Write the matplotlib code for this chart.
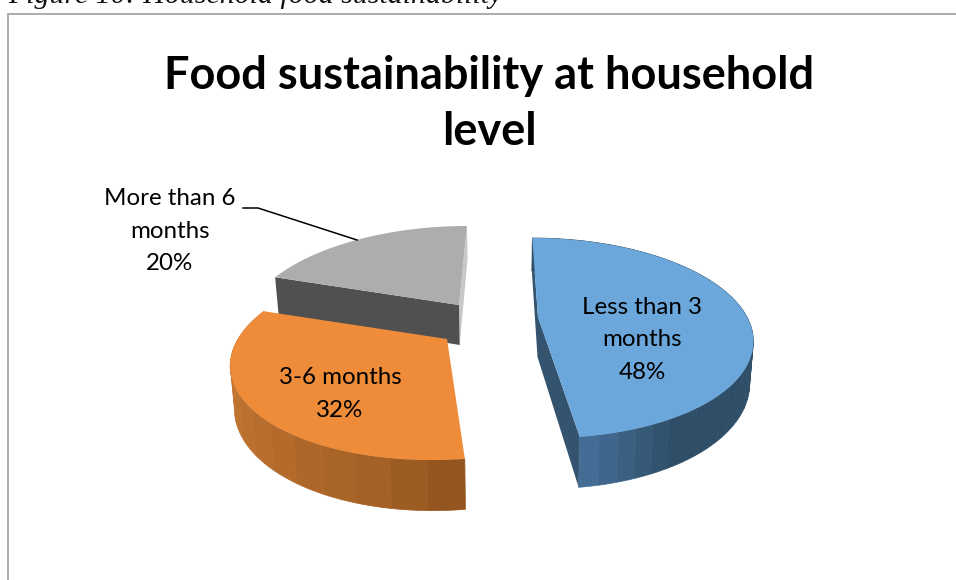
"""Household food sustainability: exploded 3-D pie, drawn on a pixel-sized axes."""
import numpy as np
import matplotlib; matplotlib.use('Agg')
import matplotlib.pyplot as plt
from matplotlib.colors import to_rgb

categories = ['Less than 3\nmonths', '3-6 months', 'More than 6\nmonths']
shares = [48, 32, 20]
title = 'Food sustainability at household\nlevel'
caption = 'Figure 10: Household food sustainability'

# look of each slice, same order as categories
TOP = ['#6CA7DC', '#EE8C3A', '#ADADAD']
SIDE_A = ['#2F4E68', '#8A4F1A', '#505050']     # side colour at the first arc end
SIDE_B = ['#45709A', '#D27F38', '#505050']     # side colour at the other arc end
DX = [33, -58, -46]                            # explosion sideways, px
APEX_Y = [317, 339, 305]                       # slice point on screen, px
LABEL_XY = [(642, 340), (340, 394), (170, 231)]

# fake perspective of the pie plane
CX, A, B, P, DEPTH, SQUEEZE = 505, 209, 95.6, 0.21, 40, 0.985

def project(i, ang, r=1.0, down=False):
    X, Y = r*np.sin(ang), r*np.cos(ang)
    w = 1 + P*Y
    sx = CX + (A*X + DX[i])/w
    sy = APEX_Y[i] - B*Y/w
    if down:
        sx = CX + (sx - CX)*SQUEEZE
        sy = sy + DEPTH/w
    return sx, sy

fig = plt.figure(figsize=(9.56, 5.8), dpi=100)
ax = fig.add_axes([0, 0, 1, 1])
ax.set_xlim(0, 956); ax.set_ylim(580, 0); ax.axis('off')

# chart frame, runs off the page on the right and bottom
ax.plot([8.5, 8.5, 960], [585, 13.5, 13.5], color='#A6A6A6', lw=1.3, solid_joinstyle='miter')
ax.text(8, 3, caption, family='Liberation Serif', style='italic', fontsize=21.5, va='baseline', ha='left', color='#111111')

fracs = np.array(shares)/sum(shares)
edges = np.concatenate([[0], np.cumsum(fracs)])*2*np.pi
for i in [2, 1, 0]:   # back slice first
    a0, a1 = edges[i], edges[i+1]
    base = 3 + (2-i)*3
    # radial faces: index 0 end of arc, 1 point, 2 start of arc
    xs_t, ys_t = project(i, np.array([a1, a1, a0]), np.array([1, 0, 1]))
    xs_b, ys_b = project(i, np.array([a1, a1, a0]), np.array([1, 0, 1]), down=True)
    if i == 2:
        ax.fill([xs_t[0], xs_t[1], xs_b[1], xs_b[0]], [ys_t[0], ys_t[1], ys_b[1], ys_b[0]], color='#C8C8C8', lw=0, zorder=base)
        ax.fill([xs_t[2], xs_t[1], xs_b[1], xs_b[2]], [ys_t[2], ys_t[1], ys_b[1], ys_b[2]], color=SIDE_A[2], lw=0, zorder=base+1)
    elif i == 0:
        ax.fill(list(xs_t)+list(xs_b[::-1]), list(ys_t)+list(ys_b[::-1]), color='#34536E', lw=0, zorder=base)
    # curved side, in bands (the gray one faces away)
    n = 14 if i == 1 else 40
    bands = np.linspace(a0, a1, n+1)
    for j in range(n if i != 2 else 0):
        u = np.linspace(bands[j], bands[j+1], 6)
        xa, ya = project(i, u)
        xb, yb = project(i, u, down=True)
        t = (j + .5)/n
        if i == 0:
            t = max(0, (t - .87)/.13)      # blue only lightens near the front corner
        else:
            t = t**0.6
        c = np.array(to_rgb(SIDE_A[i]))*(1-t) + np.array(to_rgb(SIDE_B[i]))*t
        ax.fill(np.r_[xa, xb[::-1]], np.r_[ya, yb[::-1]], facecolor=c, edgecolor=c, lw=0.5, zorder=base)
    # top face
    u = np.linspace(a0, a1, 120)
    xa, ya = project(i, u)
    xc, yc = project(i, 0.0, 0.0)
    ax.fill(np.r_[xc, xa], np.r_[yc, ya], color=TOP[i], lw=0, zorder=base+2)

for lab, v, (lx, ly) in zip(categories, shares, LABEL_XY):
    ax.text(lx, ly, f'{lab}\n{v}%', family='Lato', fontsize=17.4, ha='center', va='center', color='black', linespacing=1.68, zorder=20)

# leader of the gray slice
ax.plot([243, 258, 357], [208, 208, 240], color='black', lw=1.1, zorder=20)

ax.text(489, 104, title, family='Lato', weight='bold', fontsize=32.5, ha='center', va='center', color='black', linespacing=1.4, zorder=20)

fig.savefig('out.png', dpi=100)
